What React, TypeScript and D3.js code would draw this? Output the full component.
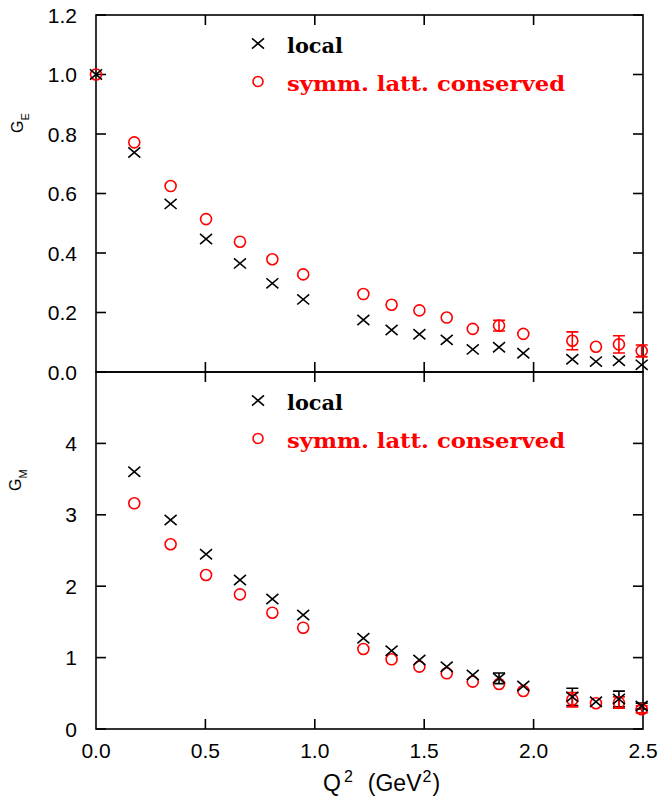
import React from "react";
import * as d3 from "d3";

// ---- data ----
const q2 = [0, 0.175, 0.341, 0.503, 0.658, 0.806, 0.947, 1.222, 1.351, 1.478, 1.603, 1.722, 1.842, 1.953, 2.177, 2.285, 2.39, 2.494];
const geLocal = [1.0, 0.738, 0.565, 0.447, 0.365, 0.298, 0.244, 0.175, 0.141, 0.127, 0.108, 0.076, 0.083, 0.063, 0.043, 0.035, 0.038, 0.024];
const geLocalErr = [0, 0, 0, 0, 0, 0, 0, 0, 0, 0, 0, 0, 0, 0, 0, 0, 0, 0];
const geCons = [1.0, 0.772, 0.625, 0.514, 0.438, 0.379, 0.328, 0.262, 0.226, 0.207, 0.183, 0.145, 0.156, 0.128, 0.105, 0.085, 0.093, 0.071];
const geConsErr = [0, 0, 0, 0, 0, 0, 0, 0, 0, 0, 0, 0, 0.018, 0, 0.03, 0, 0.029, 0.02];

const q2M = [0.175, 0.341, 0.503, 0.658, 0.806, 0.947, 1.222, 1.351, 1.478, 1.603, 1.722, 1.842, 1.953, 2.177, 2.285, 2.39, 2.494];
const gmLocal = [3.604, 2.927, 2.447, 2.087, 1.821, 1.597, 1.27, 1.097, 0.966, 0.873, 0.756, 0.71, 0.602, 0.45, 0.382, 0.42, 0.322];
const gmLocalErr = [0, 0, 0, 0, 0, 0, 0, 0, 0, 0, 0, 0.075, 0, 0.12, 0, 0.11, 0.04];
const gmCons = [3.161, 2.587, 2.157, 1.886, 1.629, 1.419, 1.12, 0.976, 0.873, 0.78, 0.663, 0.63, 0.532, 0.41, 0.36, 0.37, 0.276];
const gmConsErr = [0, 0, 0, 0, 0, 0, 0, 0, 0, 0, 0, 0, 0, 0.1, 0, 0.08, 0.05];

const xTicks = [0, 0.5, 1.0, 1.5, 2.0, 2.5];
const yTopTicks = [0, 0.2, 0.4, 0.6, 0.8, 1.0, 1.2];
const yBotTicks = [0, 1, 2, 3, 4];
const legendLabels = ["local", "symm. latt. conserved"];

const RED = "#ff0000";
const BLACK = "#000000";
const TICK_FONT = "'Liberation Sans', Arial, sans-serif";
const LEG_FONT = "'DejaVu Serif', serif";

const x = d3.scaleLinear().domain([0, 2.5]).range([96, 643]);
const yTop = d3.scaleLinear().domain([0, 1.2]).range([372, 15]);
const yBot = d3.scaleLinear().domain([0, 5]).range([729, 372]);

const MS = 6; // marker half-size

function Cross({ cx, cy }: { cx: number; cy: number }) {
  return (
    <path
      d={`M${cx - MS},${cy - MS * 0.85}L${cx + MS},${cy + MS * 0.85}M${cx - MS},${cy + MS * 0.85}L${cx + MS},${cy - MS * 0.85}`}
      stroke={BLACK}
      strokeWidth={1.6}
      fill="none"
    />
  );
}
function Circ({ cx, cy }: { cx: number; cy: number }) {
  return <circle cx={cx} cy={cy} r={5.5} stroke={RED} strokeWidth={1.6} fill="none" />;
}
function ErrBar({ cx, y1, y2, color }: { cx: number; y1: number; y2: number; color: string }) {
  return (
    <path
      d={`M${cx},${y1}L${cx},${y2}M${cx - 6},${y1}L${cx + 6},${y1}M${cx - 6},${y2}L${cx + 6},${y2}`}
      stroke={color}
      strokeWidth={1.6}
      fill="none"
    />
  );
}

function Panel({
  y,
  yTicks,
  fmt,
  xs,
  local,
  localErr,
  cons,
  consErr,
  top,
}: {
  y: d3.ScaleLinear<number, number>;
  yTicks: number[];
  fmt: (v: number) => string;
  xs: number[];
  local: number[];
  localErr: number[];
  cons: number[];
  consErr: number[];
  top: number;
}) {
  const [y0, y1] = y.range();
  const x0 = x.range()[0];
  const x1 = x.range()[1];
  const TL = 10;
  return (
    <g>
      <rect x={x0} y={y1} width={x1 - x0} height={y0 - y1} fill="none" stroke={BLACK} strokeWidth={1.6} />
      {xTicks.slice(1, -1).map((t) => (
        <g key={"xt" + t}>
          <line x1={x(t)} x2={x(t)} y1={y0} y2={y0 - TL} stroke={BLACK} strokeWidth={1.6} />
          <line x1={x(t)} x2={x(t)} y1={y1} y2={y1 + TL} stroke={BLACK} strokeWidth={1.6} />
        </g>
      ))}
      {yTicks.map((t) => (
        <g key={"yt" + t}>
          <line x1={x0} x2={x0 + TL} y1={y(t)} y2={y(t)} stroke={BLACK} strokeWidth={1.6} />
          <line x1={x1} x2={x1 - TL} y1={y(t)} y2={y(t)} stroke={BLACK} strokeWidth={1.6} />
          <text
            x={x0 - 19}
            y={y(t)}
            dy="0.36em"
            textAnchor="end"
            fontFamily={TICK_FONT}
            fontSize={21}
            fill={BLACK}
          >
            {fmt(t)}
          </text>
        </g>
      ))}
      {xs.map((q, i) =>
        localErr[i] > 0 ? (
          <ErrBar key={"le" + i} cx={x(q)} y1={y(local[i] + localErr[i])} y2={y(local[i] - localErr[i])} color={BLACK} />
        ) : null
      )}
      {xs.map((q, i) =>
        consErr[i] > 0 ? (
          <ErrBar key={"ce" + i} cx={x(q)} y1={y(cons[i] + consErr[i])} y2={y(cons[i] - consErr[i])} color={RED} />
        ) : null
      )}
      {xs.map((q, i) => (
        <Circ key={"c" + i} cx={x(q)} cy={y(cons[i])} />
      ))}
      {xs.map((q, i) => (
        <Cross key={"x" + i} cx={x(q)} cy={y(local[i])} />
      ))}
      {/* legend */}
      <Cross cx={258} cy={top + 28.5} />
      <text
        x={287}
        y={top + 38}
        fontFamily={LEG_FONT}
        fontWeight="bold"
        fontSize={20}
        fill={BLACK}
        textLength={56}
        lengthAdjust="spacingAndGlyphs"
      >
        {legendLabels[0]}
      </text>
      <circle cx={258} cy={top + 66.5} r={5} stroke={RED} strokeWidth={1.6} fill="none" />
      <text
        x={287}
        y={top + 76}
        fontFamily={LEG_FONT}
        fontWeight="bold"
        fontSize={20}
        fill={RED}
        textLength={278}
        lengthAdjust="spacingAndGlyphs"
      >
        {legendLabels[1]}
      </text>
    </g>
  );
}

export default function App() {
  return (
    <svg
      width={672}
      height={801}
      viewBox="0 0 672 801"
      style={{ position: "absolute", left: 0, top: 0, background: "#fff" }}
    >
      <rect x={0} y={0} width={672} height={801} fill="#fff" />
      <Panel
        y={yTop}
        yTicks={yTopTicks}
        fmt={(v) => v.toFixed(1)}
        xs={q2}
        local={geLocal}
        localErr={geLocalErr}
        cons={geCons}
        consErr={geConsErr}
        top={15}
      />
      <Panel
        y={yBot}
        yTicks={yBotTicks}
        fmt={(v) => String(v)}
        xs={q2M}
        local={gmLocal}
        localErr={gmLocalErr}
        cons={gmCons}
        consErr={gmConsErr}
        top={372}
      />
      {xTicks.map((t) => (
        <text key={"xl" + t} x={x(t)} y={758} textAnchor="middle" fontFamily={TICK_FONT} fontSize={21} fill={BLACK}>
          {t.toFixed(1)}
        </text>
      ))}
      {/* x axis title */}
      <text x={323} y={791} fontFamily={TICK_FONT} fontSize={23} fill={BLACK}>
        <tspan>Q</tspan>
        <tspan dx={3} dy={-9} fontSize={16}>2</tspan>
        <tspan dx={15} dy={9}>(GeV</tspan>
        <tspan dx={1} dy={-9} fontSize={16}>2</tspan>
        <tspan dx={1} dy={9}>)</tspan>
      </text>
      <text transform="translate(23,133) rotate(-90)" fontFamily={TICK_FONT} fontSize={16} fill={BLACK}>
        <tspan>G</tspan>
        <tspan dy={6} fontSize={11}>E</tspan>
      </text>
      <text transform="translate(21,491) rotate(-90)" fontFamily={TICK_FONT} fontSize={16} fill={BLACK}>
        <tspan>G</tspan>
        <tspan dy={6} fontSize={11}>M</tspan>
      </text>
    </svg>
  );
}
